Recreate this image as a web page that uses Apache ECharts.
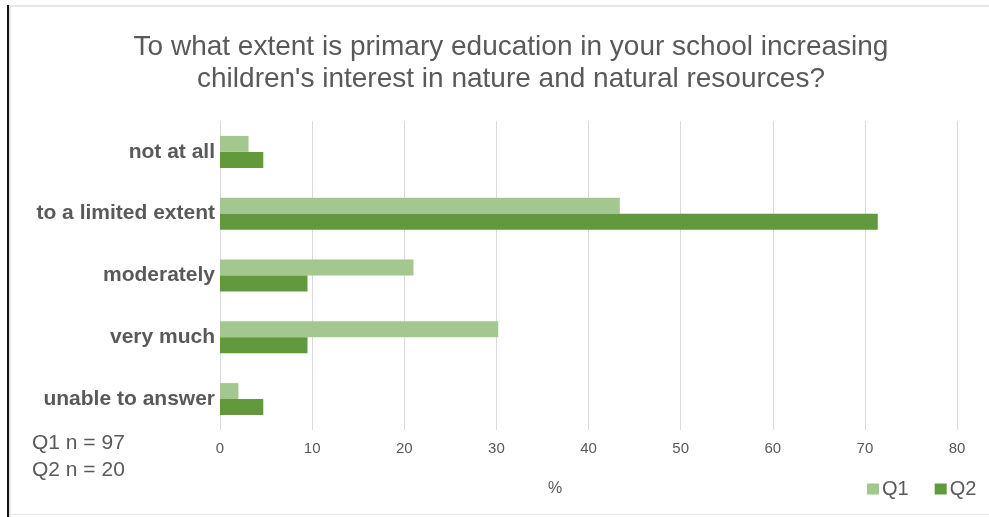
<!DOCTYPE html>
<html>
<head>
<meta charset="utf-8">
<script src="https://cdn.jsdelivr.net/npm/echarts@6/dist/echarts.min.js"></script>
<style>
  html, body { margin: 0; padding: 0; background: #fff; }
  #chart { width: 989px; height: 517px; }
</style>
</head>
<body>
<div id="chart"></div>
<script>
// answer categories, top to bottom
const categories = ['not at all', 'to a limited extent', 'moderately', 'very much', 'unable to answer']
// percentages
const q1Values = [3.1, 43.4, 21.0, 30.2, 2.0]
const q2Values = [4.7, 71.4, 9.5, 9.5, 4.7]
const seriesNames = ['Q1', 'Q2']
const xTicks = { min: 0, max: 80, interval: 10 }

const font = "'Liberation Sans', Helvetica, Arial, sans-serif"
const grey = '#595959'

const chart = echarts.init(document.getElementById('chart'))

const option = {
  animation: false,
  backgroundColor: '#fff',
  color: ['#a4c78f', '#63993d'],
  textStyle: { fontFamily: font },
  grid: { left: 220, right: 32, top: 121, bottom: 87, containLabel: false },
  legend: {
    data: seriesNames,
    left: 862,
    top: 474,
    icon: 'rect',
    itemWidth: 12,
    itemHeight: 11,
    itemGap: 26,
    textStyle: { fontSize: 20, color: grey, fontFamily: font, padding: [0, 0, 0, -2] }
  },
  xAxis: {
    type: 'value',
    min: xTicks.min,
    max: xTicks.max,
    interval: xTicks.interval,
    axisLine: { show: false },
    axisTick: { show: false },
    axisLabel: { color: grey, fontSize: 15, margin: 11, fontFamily: font },
    splitLine: { lineStyle: { color: '#d9d9d9', width: 1 } }
  },
  yAxis: {
    type: 'category',
    data: categories,
    inverse: true,
    axisLine: { show: false },
    axisTick: { show: false },
    axisLabel: { color: grey, fontSize: 21, fontWeight: 'bold', margin: 5, fontFamily: font }
  },
  series: [
    {
      name: seriesNames[0],
      type: 'bar',
      data: q1Values,
      barWidth: 16,
      barGap: '0%'
    },
    {
      name: seriesNames[1],
      type: 'bar',
      data: q2Values,
      barWidth: 16,
      barGap: '0%'
    }
  ],
  graphic: [
    // frame
    { type: 'rect', shape: { x: 9, y: 5, width: 980, height: 2 }, style: { fill: '#e6e6e6' }, silent: true },
    { type: 'rect', shape: { x: 9, y: 7, width: 2, height: 510 }, style: { fill: '#e6e6e6' }, silent: true },
    { type: 'rect', shape: { x: 7, y: 5, width: 2, height: 512 }, style: { fill: '#111' }, silent: true },
    { type: 'rect', shape: { x: 9, y: 514, width: 980, height: 1 }, style: { fill: '#e6e6e6' }, silent: true },
    // title
    {
      type: 'text', x: 511, y: 31, silent: true,
      style: {
        text: 'To what extent is primary education in your school increasing\nchildren\'s interest in nature and natural resources?',
        fill: grey, font: '28px ' + font, align: 'center', verticalAlign: 'top', lineHeight: 32
      }
    },
    // sample sizes
    { type: 'text', x: 32, y: 443, silent: true, style: { text: 'Q1 n = 97', fill: grey, font: '21px ' + font, verticalAlign: 'middle' } },
    { type: 'text', x: 32, y: 470, silent: true, style: { text: 'Q2 n = 20', fill: grey, font: '21px ' + font, verticalAlign: 'middle' } },
    // axis unit
    { type: 'text', x: 555, y: 489, silent: true, style: { text: '%', fill: grey, font: '16px ' + font, align: 'center', verticalAlign: 'middle' } }
  ]
}

chart.setOption(option)
</script>
</body>
</html>
